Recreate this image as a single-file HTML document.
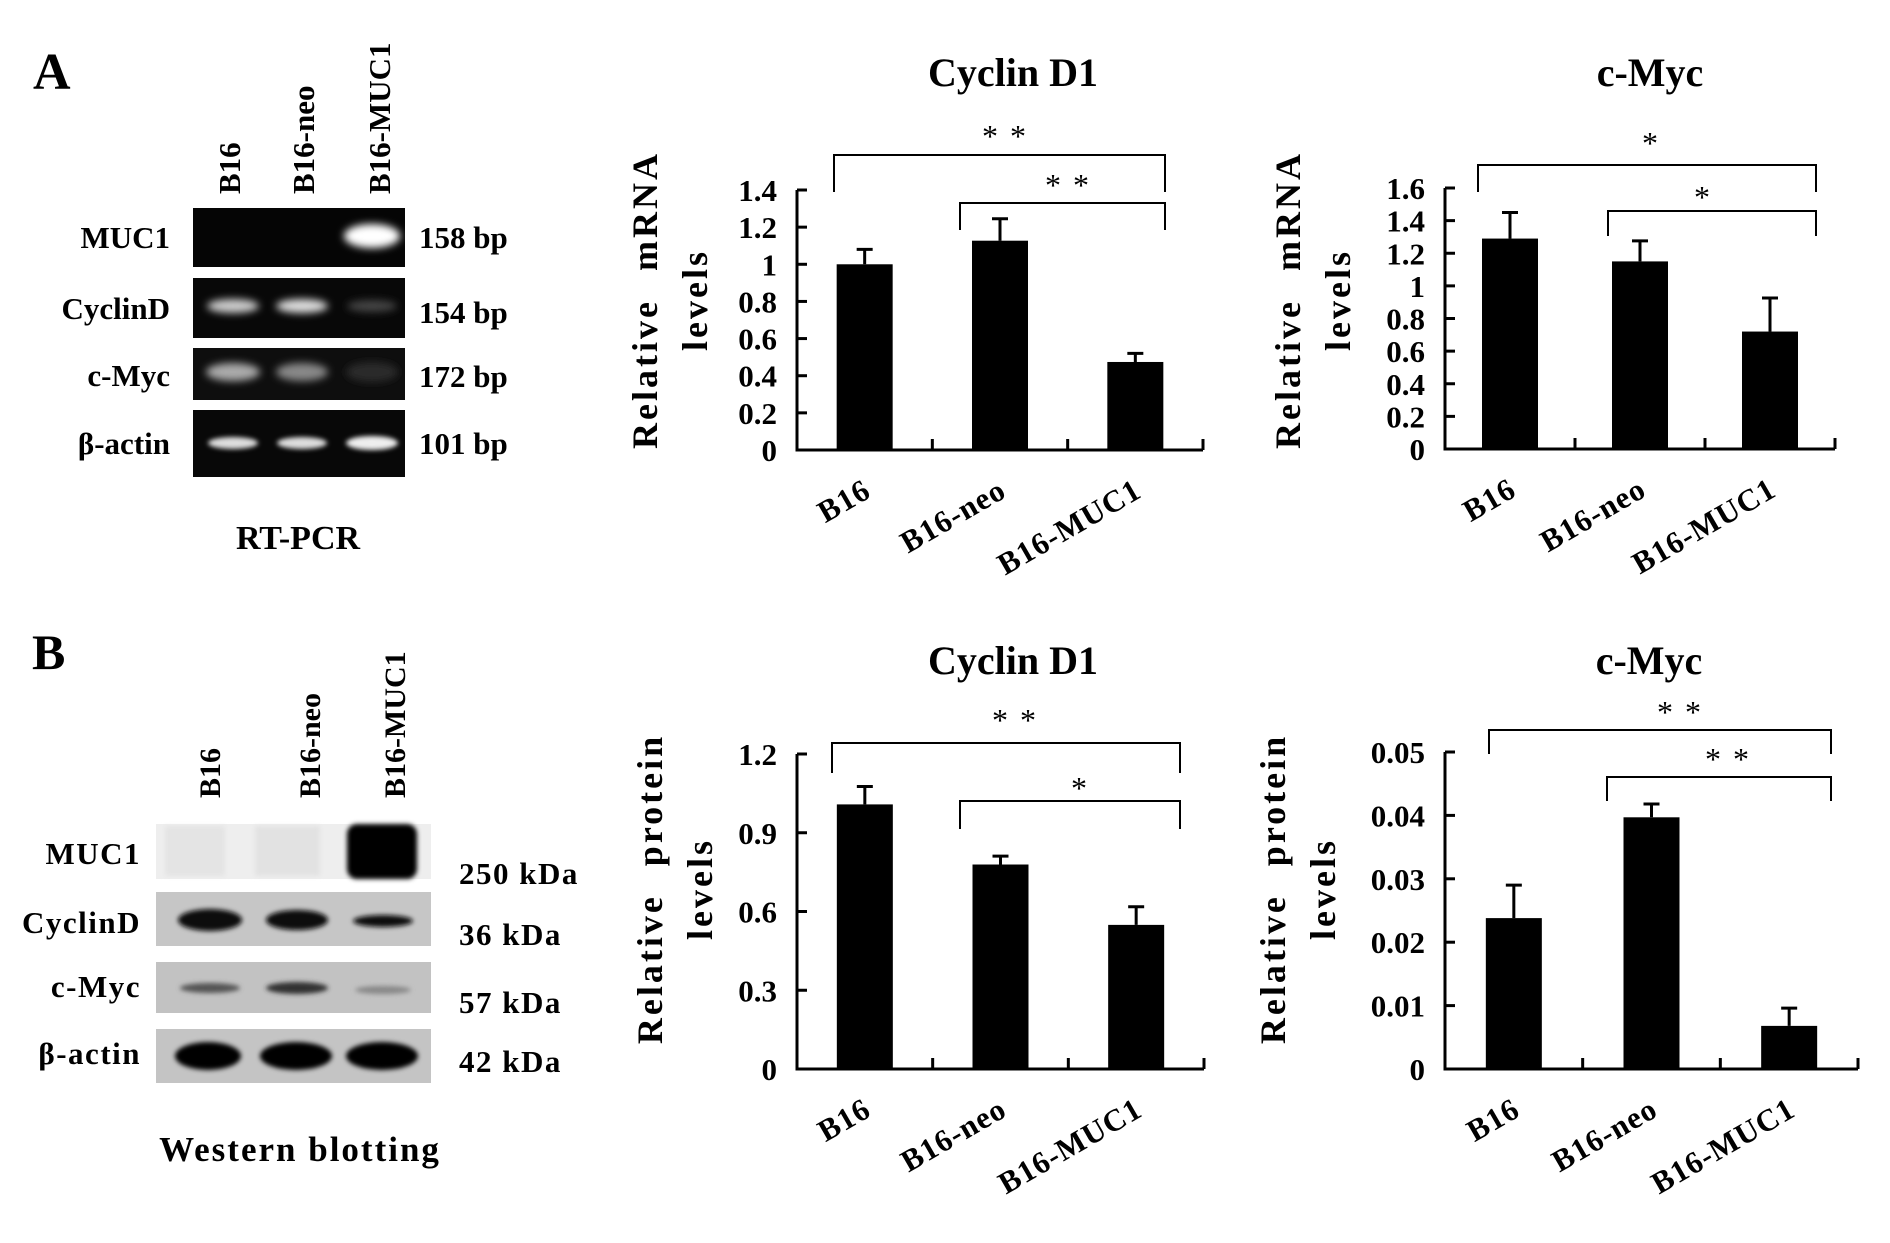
<!DOCTYPE html>
<html><head><meta charset="utf-8"><style>
html,body{margin:0;padding:0;background:#fff;}
svg{display:block;font-family:"Liberation Serif",serif;font-weight:bold;}
</style></head><body>
<svg id="fig" width="1890" height="1243" viewBox="0 0 1890 1243" xmlns="http://www.w3.org/2000/svg">
<defs>
<filter id="blur3" x="-50%" y="-100%" width="200%" height="300%"><feGaussianBlur stdDeviation="4"/></filter>
<filter id="blur2" x="-50%" y="-100%" width="200%" height="300%"><feGaussianBlur stdDeviation="2.5"/></filter>
</defs>
<rect width="1890" height="1243" fill="#fff"/>

<!-- Panel A gel -->
<g>
<text x="33" y="89" font-size="52">A</text>
<text transform="translate(240,194) rotate(-90)" font-size="31">B16</text>
<text transform="translate(314,194) rotate(-90)" font-size="31">B16-neo</text>
<text transform="translate(390,194) rotate(-90)" font-size="31">B16-MUC1</text>
<rect x="193" y="208" width="212" height="59" fill="#050505"/>
<rect x="193" y="278" width="212" height="60" fill="#080808"/>
<rect x="193" y="348" width="212" height="52" fill="#0e0e0e"/>
<rect x="193" y="410" width="212" height="67" fill="#080808"/>
<ellipse cx="372" cy="236" rx="28" ry="12" fill="#fff" filter="url(#blur3)"/>
<ellipse cx="233" cy="306" rx="26" ry="7" fill="#ccc" filter="url(#blur3)"/>
<ellipse cx="302" cy="306" rx="26" ry="7" fill="#ddd" filter="url(#blur3)"/>
<ellipse cx="372" cy="306" rx="25" ry="6" fill="#444" filter="url(#blur3)"/>
<ellipse cx="233" cy="372" rx="27" ry="9" fill="#aaa" filter="url(#blur3)"/>
<ellipse cx="302" cy="372" rx="26" ry="9" fill="#888" filter="url(#blur3)"/>
<ellipse cx="372" cy="372" rx="26" ry="10" fill="#2a2a2a" filter="url(#blur3)"/>
<ellipse cx="233" cy="443" rx="25" ry="6" fill="#ddd" filter="url(#blur2)"/>
<ellipse cx="302" cy="443" rx="25" ry="6" fill="#ddd" filter="url(#blur2)"/>
<ellipse cx="372" cy="443" rx="26" ry="7" fill="#eee" filter="url(#blur2)"/>
<g font-size="31" text-anchor="end">
<text x="170" y="248">MUC1</text>
<text x="170" y="319">CyclinD</text>
<text x="170" y="386">c-Myc</text>
<text x="170" y="454">β-actin</text>
</g>
<g font-size="31">
<text x="419" y="248">158 bp</text>
<text x="419" y="323">154 bp</text>
<text x="419" y="387">172 bp</text>
<text x="419" y="454">101 bp</text>
</g>
<text x="298" y="549" font-size="34" text-anchor="middle">RT-PCR</text>
</g>

<!-- Panel B blot -->
<g>
<text x="32" y="669" font-size="50">B</text>
<text transform="translate(220,798) rotate(-90)" font-size="30">B16</text>
<text transform="translate(320,798) rotate(-90)" font-size="30">B16-neo</text>
<text transform="translate(405,798) rotate(-90)" font-size="30">B16-MUC1</text>
<rect x="156" y="824" width="275" height="55" fill="#eeeeee"/>
<rect x="165" y="826" width="60" height="50" fill="#e4e4e4" filter="url(#blur2)"/>
<rect x="255" y="826" width="65" height="50" fill="#e2e2e2" filter="url(#blur2)"/>
<rect x="156" y="892" width="275" height="54" fill="#c6c6c6"/>
<rect x="156" y="962" width="275" height="51" fill="#c2c2c2"/>
<rect x="156" y="1029" width="275" height="54" fill="#c4c4c4"/>
<rect x="347" y="824" width="70" height="55" rx="10" fill="#050505" filter="url(#blur2)"/>
<ellipse cx="210" cy="920" rx="32" ry="11" fill="#080808" filter="url(#blur2)"/>
<ellipse cx="297" cy="920" rx="31" ry="10" fill="#080808" filter="url(#blur2)"/>
<ellipse cx="383" cy="921" rx="30" ry="6" fill="#111" filter="url(#blur2)"/>
<ellipse cx="210" cy="988" rx="30" ry="5" fill="#555" filter="url(#blur2)"/>
<ellipse cx="297" cy="988" rx="31" ry="6" fill="#333" filter="url(#blur2)"/>
<ellipse cx="383" cy="990" rx="28" ry="4" fill="#888" filter="url(#blur2)"/>
<ellipse cx="208" cy="1056" rx="33" ry="14" fill="#050505" filter="url(#blur2)"/>
<ellipse cx="296" cy="1056" rx="36" ry="14" fill="#050505" filter="url(#blur2)"/>
<ellipse cx="382" cy="1056" rx="36" ry="14" fill="#050505" filter="url(#blur2)"/>
<g font-size="31" text-anchor="end" letter-spacing="1.5">
<text x="141" y="864">MUC1</text>
<text x="141" y="933">CyclinD</text>
<text x="141" y="997">c-Myc</text>
<text x="141" y="1064">β-actin</text>
</g>
<g font-size="31" letter-spacing="1.5">
<text x="459" y="884">250 kDa</text>
<text x="459" y="945">36 kDa</text>
<text x="459" y="1013">57 kDa</text>
<text x="459" y="1072">42 kDa</text>
</g>
<text x="300" y="1161" font-size="35" text-anchor="middle" letter-spacing="2">Western blotting</text>
</g>
<g id="charts"></g>
</svg>
<script>
const categories = ["B16", "B16-neo", "B16-MUC1"];
const cyclinMrna = [1.00, 1.127, 0.474];
const cyclinMrnaErr = [0.08, 0.118, 0.046];
const mycMrna = [1.29, 1.15, 0.72];
const mycMrnaErr = [0.16, 0.126, 0.206];
const cyclinProtein = [1.008, 0.779, 0.549];
const cyclinProteinErr = [0.068, 0.032, 0.069];
const mycProtein = [0.0238, 0.0397, 0.0068];
const mycProteinErr = [0.0052, 0.0021, 0.0028];
const ticksA1 = ["0", "0.2", "0.4", "0.6", "0.8", "1", "1.2", "1.4"];
const ticksA2 = ["0", "0.2", "0.4", "0.6", "0.8", "1", "1.2", "1.4", "1.6"];
const ticksB1 = ["0", "0.3", "0.6", "0.9", "1.2"];
const ticksB2 = ["0", "0.01", "0.02", "0.03", "0.04", "0.05"];

const NS = "http://www.w3.org/2000/svg";
const root = document.getElementById("charts");
function mk(tag, attrs, parent) {
  const e = document.createElementNS(NS, tag);
  for (const k in attrs) e.setAttribute(k, attrs[k]);
  parent.appendChild(e);
  return e;
}
function chart(cfg) {
  const g = mk("g", {}, root);
  
  
  const yMax = parseFloat(cfg.ticks[cfg.ticks.length - 1]);
  const y = v => cfg.y0 - (v / yMax) * (cfg.y0 - cfg.yTop);
  const bw = (cfg.x1 - cfg.x0) / categories.length;
  const xc = i => cfg.x0 + bw * (i + 0.5);
  const barW = 56;
  const t = mk("text", {x: cfg.titleX, y: cfg.titleY, "font-size": 40, "text-anchor": "middle"}, g);
  t.textContent = cfg.title;
  
  
  const yl = mk("text", {transform: `translate(${cfg.ylx},${cfg.ylc}) rotate(-90)`, "font-size": 36, "text-anchor": "middle", "word-spacing": 16, "letter-spacing": 3}, g);
  yl.textContent = cfg.ylabel;
  
  
  const yl2 = mk("text", {transform: `translate(${cfg.ylx + 50},${cfg.ylc}) rotate(-90)`, "font-size": 36, "text-anchor": "middle", "letter-spacing": 3}, g);
  yl2.textContent = "levels";
  
  
  const ax = mk("path", {d: `M${cfg.x0},${cfg.yTop} V${cfg.y0} H${cfg.x1} M${cfg.x0 + bw},${cfg.y0} v-11 M${cfg.x0 + 2 * bw},${cfg.y0} v-11 M${cfg.x1},${cfg.y0} v-11`, stroke: "#000", "stroke-width": 3, fill: "none"}, g);
  
  
  cfg.ticks.forEach((lab, i) => {
    const v = parseFloat(lab);
    const tk = mk("line", {x1: cfg.x0, x2: cfg.x0 + 10, y1: y(v), y2: y(v), stroke: "#000", "stroke-width": 3}, g);
    
    
    const tl = mk("text", {x: cfg.x0 - 20, y: y(v) + 11, "font-size": 31, "text-anchor": "end"}, g);
    tl.textContent = lab;
    
    
  });
  categories.forEach((c, i) => {
    const v = cfg.vals[i], e = cfg.errs[i];
    const eb = mk("path", {d: `M${xc(i)},${y(v)} V${y(v + e)} M${xc(i) - 8},${y(v + e)} H${xc(i) + 8}`, stroke: "#000", "stroke-width": 3, fill: "none"}, g);
    
    
    const r = mk("rect", {x: xc(i) - barW / 2, y: y(v), width: barW, height: cfg.y0 - y(v), fill: "#000"}, g);
    
    
    const xl = mk("text", {transform: `translate(${xc(i) + 8},${cfg.y0 + 46}) rotate(-30)`, "font-size": 31, "text-anchor": "end", "letter-spacing": 1}, g);
    xl.textContent = c;
    
    
  });
  cfg.brackets.forEach(b => {
    const bp = mk("path", {d: `M${b.xa},${b.ya} V${b.yb} H${b.xb} V${b.yc}`, stroke: "#000", "stroke-width": 2, fill: "none"}, g);
    
    
    const st = mk("text", {x: b.sx, y: b.sy + 16, "font-size": 32, "font-weight": "normal", "text-anchor": "middle", "letter-spacing": 2}, g);
    st.textContent = b.s;
    
    
  });
}
chart({name: "chart-cyclin-d1-mrna", title: "Cyclin D1", titleX: 1013, titleY: 86, ylabel: "Relative mRNA", ylx: 657, ylc: 300,
  x0: 797, x1: 1203, y0: 450, yTop: 190, ticks: ticksA1, vals: cyclinMrna, errs: cyclinMrnaErr,
  brackets: [{xa: 834, ya: 192, yb: 155, xb: 1165, yc: 192, sx: 1005, sy: 131, s: "* *"},
             {xa: 960, ya: 230, yb: 203, xb: 1165, yc: 230, sx: 1068, sy: 180, s: "* *"}]});
chart({name: "chart-cmyc-mrna", title: "c-Myc", titleX: 1650, titleY: 86, ylabel: "Relative mRNA", ylx: 1300, ylc: 300,
  x0: 1445, x1: 1835, y0: 449, yTop: 188, ticks: ticksA2, vals: mycMrna, errs: mycMrnaErr,
  brackets: [{xa: 1478, ya: 192, yb: 165, xb: 1816, yc: 192, sx: 1651, sy: 138, s: "*"},
             {xa: 1608, ya: 236, yb: 211, xb: 1816, yc: 236, sx: 1703, sy: 192, s: "*"}]});
chart({name: "chart-cyclin-d1-protein", title: "Cyclin D1", titleX: 1013, titleY: 674, ylabel: "Relative protein", ylx: 662, ylc: 889,
  x0: 797, x1: 1204, y0: 1069, yTop: 754, ticks: ticksB1, vals: cyclinProtein, errs: cyclinProteinErr,
  brackets: [{xa: 832, ya: 773, yb: 743, xb: 1180, yc: 773, sx: 1015, sy: 715, s: "* *"},
             {xa: 960, ya: 829, yb: 801, xb: 1180, yc: 829, sx: 1080, sy: 783, s: "*"}]});
chart({name: "chart-cmyc-protein", title: "c-Myc", titleX: 1649, titleY: 674, ylabel: "Relative protein", ylx: 1285, ylc: 889,
  x0: 1445, x1: 1858, y0: 1069, yTop: 752, ticks: ticksB2, vals: mycProtein, errs: mycProteinErr,
  brackets: [{xa: 1489, ya: 754, yb: 730, xb: 1831, yc: 754, sx: 1680, sy: 707, s: "* *"},
             {xa: 1607, ya: 801, yb: 777, xb: 1831, yc: 801, sx: 1728, sy: 754, s: "* *"}]});
</script>
</body></html>
